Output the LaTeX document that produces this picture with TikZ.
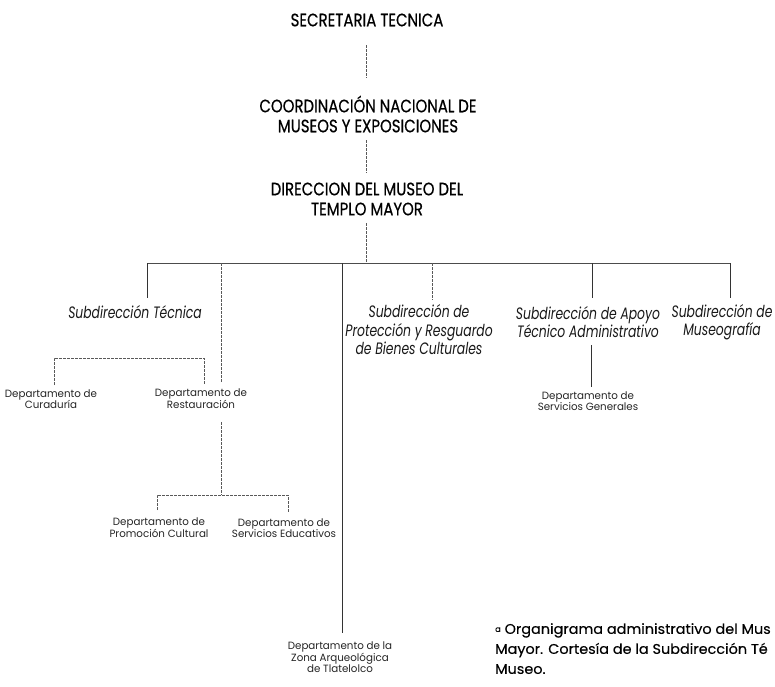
\documentclass[tikz,border=0pt]{standalone}
\usepackage{fontspec}
\setmainfont{Poppins}
\newfontfamily\capf[FakeStretch=0.83,FakeBold=0.5]{Poppins}
\newfontfamily\itf[FakeStretch=0.75]{Poppins}
\newfontfamily\smf[FakeStretch=0.98]{Poppins}
\newfontfamily\cpf[FakeStretch=1.03,FakeBold=0.2]{Poppins}
\tikzset{
  head/.style={font=\capf\fontsize{18}{20}\selectfont, align=center, inner sep=0pt, text=black},
  sub/.style={font=\itf\itshape\fontsize{16.5}{18.5}\selectfont, align=center, inner sep=0pt, text=black!90},
  dept/.style={font=\smf\fontsize{10.5}{11}\selectfont, align=center, inner sep=0pt, text=black!85},
  capt/.style={font=\cpf\fontsize{14}{20}\selectfont, align=left, inner sep=0pt, anchor=north west, text=black},
  ln/.style={line width=0.7pt, black!80},
  dln/.style={line width=0.6pt, black!65, dash pattern=on 3pt off 1pt},
}
\begin{document}
\begin{tikzpicture}[x=1pt,y=-1pt]
\useasboundingbox (0,0) rectangle (775,686);
\clip (0,0) rectangle (775,686);
\fill[white] (0,0) rectangle (775,686);

% nodes
\node[head] (sec) at (367,20) {SECRETARIA TECNICA};
\node[head] (coord) at (368,114) {COORDINACIÓN NACIONAL DE\\MUSEOS Y EXPOSICIONES};
\node[head] (dir) at (367,199) {DIRECCION DEL MUSEO DEL\\TEMPLO MAYOR};

\node[sub] (stec) at (135,312) {Subdirección Técnica};
\node[sub] (prot) at (419,330) {Subdirección de\\Protección y Resguardo\\de Bienes Culturales};
\node[sub] (apoyo) at (588,322) {Subdirección de Apoyo\\Técnico Administrativo};
\node[sub] (museo) at (722,322) {Subdirección de\\Museografía};

\node[dept] (cur) at (51,399) {Departamento de\\Curaduría};
\node[dept] (rest) at (201,399) {Departamento de\\Restauración};
\node[dept] (gen) at (588,401) {Departamento de\\Servicios Generales};
\node[dept] (prom) at (159,528) {Departamento de\\Promoción Cultural};
\node[dept] (educ) at (284,528) {Departamento de\\Servicios Educativos};
\node[dept] (zona) at (340,657) {Departamento de la\\Zona Arqueológica\\de Tlatelolco};

\node[capt] (capt) at (495,623) {\raisebox{2pt}{\fontsize{8}{8}\selectfont a} Organigrama administrativo del Mus\\Mayor. Cortesía de la Subdirección Té\\Museo.};

% coordinates
\coordinate (s1) at (366,45);  \coordinate (s2) at (366,78);
\coordinate (c1) at (366,140); \coordinate (c2) at (366,173);
\coordinate (d1) at (366,223); \coordinate (d2) at (366,263);
\coordinate (bl) at (147,263); \coordinate (br) at (730,263);
\coordinate (j1) at (147,263); \coordinate (e1) at (147,298);
\coordinate (j2) at (221,263); \coordinate (e2) at (221,382);
\coordinate (j3) at (342,263); \coordinate (e3) at (342,633);
\coordinate (j4) at (432,263); \coordinate (e4) at (432,300);
\coordinate (j5) at (592,263); \coordinate (e5) at (592,298);
\coordinate (j6) at (730,263); \coordinate (e6) at (730,298);
\coordinate (k1) at (54,385);  \coordinate (k2) at (54,358);
\coordinate (k3) at (204,358); \coordinate (k4) at (204,385);
\coordinate (r1) at (221,422); \coordinate (r2) at (221,495);
\coordinate (p1) at (157,495); \coordinate (p2) at (288,495);
\coordinate (p3) at (157,510); \coordinate (p4) at (288,512);
\coordinate (a1) at (591,345); \coordinate (a2) at (591,387);

% connectors
\draw[dln] (s1) -- (s2);
\draw[dln] (c1) -- (c2);
\draw[dln] (d1) -- (d2);
\draw[ln, black!70] (bl) -- (br);
\draw[ln] (j1) -- (e1);
\draw[dln] (j2) -- (e2);
\draw[ln] (j3) -- (e3);
\draw[dln] (j4) -- (e4);
\draw[ln] (j5) -- (e5);
\draw[ln] (j6) -- (e6);
\draw[dln] (k1) -- (k2) -- (k3) -- (k4);
\draw[dln] (r1) -- (r2);
\draw[dln] (p3) -- (p1) -- (p2) -- (p4);
\draw[ln] (a1) -- (a2);
\end{tikzpicture}
\end{document}
